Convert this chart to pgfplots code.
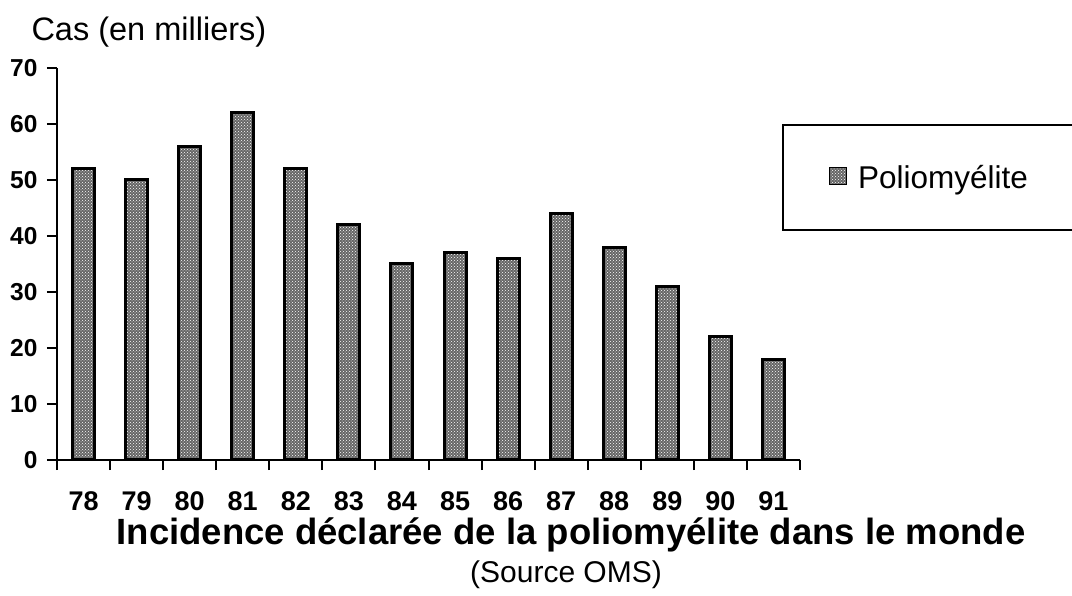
\documentclass[border=0pt]{standalone}
\usepackage{fontspec}
\setmainfont{Liberation Sans}
\usepackage{pgfplots}
\pgfplotsset{compat=1.18}
\usetikzlibrary{patterns}
\pgfplotstableread{
x val
0 52
1 50
2 56
3 62
4 52
5 42
6 35
7 37
8 36
9 44
10 38
11 31
12 22
13 18
}\polio
\begin{document}
\begin{tikzpicture}
\path[use as bounding box] (0pt,0pt) rectangle (1072pt,595pt);
\begin{axis}[
  at={(57pt,135pt)}, anchor=south west,
  scale only axis, width=743pt, height=392pt,
  xmin=-0.5, xmax=13.5, ymin=0, ymax=70,
  axis x line=bottom, axis y line=left,
  axis line style={-, line width=2.2pt},
  ytick={0,10,...,70},
  xtick={0,...,13},
  xticklabels={78,79,80,81,82,83,84,85,86,87,88,89,90,91},
  minor xtick={-0.5,0.5,...,13.5},
  major x tick style={draw=none},
  tick align=outside,
  major tick length=10pt, minor tick length=10pt,
  tick style={line width=2pt, black},
  /pgf/number format/assume math mode=true,
  yticklabel style={font=\fontsize{24.5}{28}\selectfont\bfseries, xshift=-6pt},
  xticklabel style={font=\fontsize{27}{30}\selectfont\bfseries, yshift=-18pt},
  legend style={at={(0.9758,0.857)}, anchor=north west, draw=black, line width=2pt,
    inner xsep=46pt, inner ysep=38pt, font=\fontsize{31.5}{34}\selectfont,
    /tikz/every odd column/.append style={column sep=9pt}},
  legend image code/.code={\draw[#1, line width=1.2pt] (0pt,-7pt) rectangle (17pt,10pt);},
]
\addplot[ybar, bar width=22pt, draw=black, line width=3pt, fill=black!60,
  postaction={pattern=crosshatch dots, pattern color=white}] table[x=x,y=val]{\polio};
\addlegendentry{Poliomyélite}
\end{axis}
\node[anchor=west, font=\fontsize{32.5}{36}\selectfont] at (28pt,563pt) {Cas (en milliers)};
\node[font=\fontsize{36.5}{40}\selectfont\bfseries] at (571pt,60pt) {Incidence déclarée de la poliomyélite dans le monde};
\node[font=\fontsize{30}{34}\selectfont] at (566pt,20pt) {(Source OMS)};
\end{tikzpicture}
\end{document}
